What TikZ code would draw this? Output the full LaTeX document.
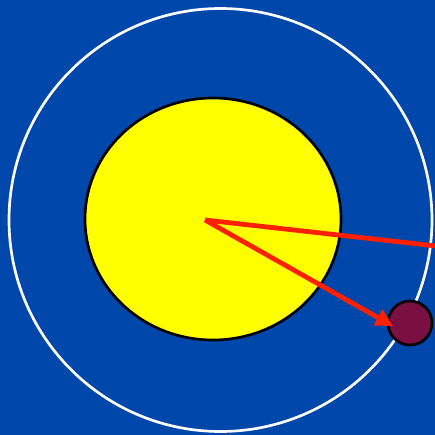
\documentclass[tikz,border=0pt]{standalone}
\usetikzlibrary{arrows.meta,shapes.geometric}
\definecolor{bg}{RGB}{0,71,171}
\definecolor{sunc}{RGB}{255,255,0}
\definecolor{redc}{RGB}{255,32,0}
\definecolor{planetc}{RGB}{122,16,66}
\begin{document}
\begin{tikzpicture}[x=0.75pt,y=-0.75pt,
  ray/.style={draw=redc,line width=3.6pt},
  orbit/.style={draw=white,line width=2pt},
  body/.style={draw=black,line width=2pt}]
\fill[bg] (0,0) rectangle (435,435);
\useasboundingbox (0,0) rectangle (435,435);
\draw[orbit] (220.5,220) ellipse [x radius=211.5,y radius=211.5];
\node[body,fill=sunc,ellipse,minimum width=256*0.75pt,minimum height=242*0.75pt,inner sep=0pt] (sun) at (213,219) {};
\node[body,fill=planetc,circle,minimum size=44*0.75pt,inner sep=0pt] (planet) at (410,323) {};
\coordinate (c) at (205,220);
\coordinate (e) at (436,246);
\coordinate (tip) at (393,326);
\draw[ray] (c) -- (e);
\draw[ray,-{Triangle[length=13pt,width=13pt]}] (c) -- (tip);
\end{tikzpicture}
\end{document}
